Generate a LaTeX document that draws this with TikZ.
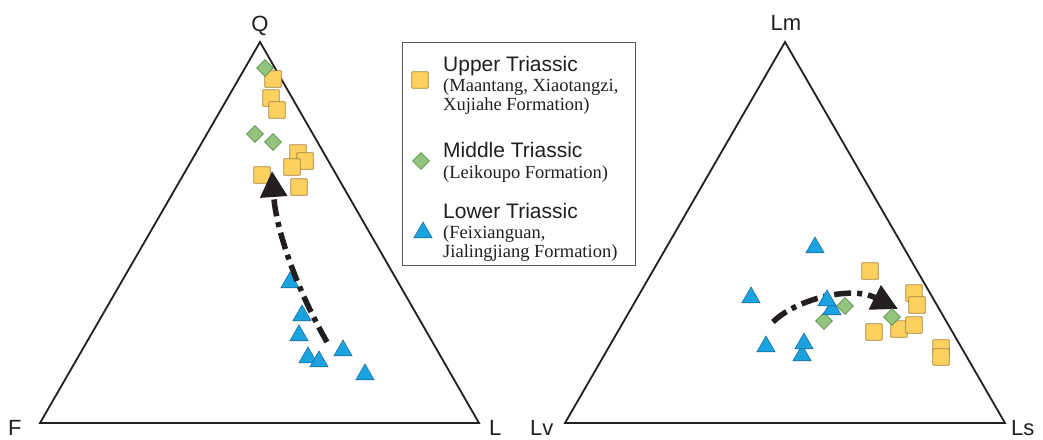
\documentclass[tikz,border=0pt]{standalone}
\usepackage{fontspec}
\setmainfont{Liberation Serif}
\setsansfont{Liberation Sans}
\usetikzlibrary{shapes.geometric,arrows.meta}
\definecolor{sqfill}{HTML}{FCD15F}
\definecolor{sqdraw}{HTML}{A8843C}
\definecolor{dmfill}{HTML}{93C47D}
\definecolor{dmdraw}{HTML}{5E8F4E}
\definecolor{trfill}{HTML}{1AA3DF}
\definecolor{trdraw}{HTML}{1B6FA3}
\definecolor{ink}{HTML}{231F20}
\definecolor{boxgray}{HTML}{5A5A5A}
\begin{document}
\begin{tikzpicture}[x=1pt,y=-1pt,
 sq/.style={rectangle,minimum size=16.5pt,inner sep=0pt,fill=sqfill,draw=sqdraw,line width=0.8pt,rounded corners=0.8pt},
 dm/.style={diamond,minimum size=17pt,inner sep=0pt,fill=dmfill,draw=dmdraw,line width=0.6pt},
 tri/.style={regular polygon,regular polygon sides=3,minimum size=21pt,inner sep=0pt,fill=trfill,draw=trdraw,line width=0.6pt,yshift=-2.5pt},
 corner/.style={font=\sffamily\fontsize{22}{26}\selectfont,text=ink,inner sep=0pt,anchor=base west},
 apex/.style={font=\sffamily\fontsize{22}{26}\selectfont,text=ink,inner sep=0pt,anchor=base},
 frame/.style={draw=ink,line width=1.8pt,line join=miter},
 trend/.style={draw=ink,line width=5.5pt,dash pattern=on 17pt off 6pt on 5pt off 6pt,-{Triangle[length=26pt,width=26pt]}},
 legbox/.style={draw=boxgray,line width=1pt,anchor=north west,minimum width=233pt,minimum height=223pt,inner sep=0pt},
 legtitle/.style={font=\sffamily\fontsize{21}{24}\selectfont,text=ink,inner sep=0pt,anchor=base west},
 legsub/.style={font=\fontsize{18.5}{21}\selectfont,text=ink,inner sep=0pt,anchor=base west}
]
\path[use as bounding box,fill=white] (0,0) rectangle (1043,439);

% ---------- left triangle Q-F-L ----------
\coordinate (Q) at (260,42);
\coordinate (F) at (40,423);
\coordinate (L) at (479,423);
\draw[frame] (F) -- (L) -- (Q) -- cycle;
\node[apex] (tQ) at (260,31) {Q};
\node[corner] (tF) at (8,435) {F};
\node[corner] (tL) at (489,435) {L};

% upper triassic (squares)
\node[sq] (a1) at (273,79) {};
\node[sq] (a2) at (271,98) {};
\node[sq] (a3) at (277,110) {};
\node[sq] (a4) at (298,153) {};
\node[sq] (a5) at (305,161) {};
\node[sq] (a6) at (292,167) {};
\node[sq] (a7) at (262,175) {};
\node[sq] (a8) at (299,187) {};
% middle triassic (diamonds)
\node[dm] (b1) at (265,68) {};
\node[dm] (b2) at (255,134) {};
\node[dm] (b3) at (273,142) {};
% lower triassic (triangles)
\node[tri] (c1) at (290,280) {};
\node[tri] (c2) at (302,313) {};
\node[tri] (c3) at (299,333) {};
\node[tri] (c4) at (308,355) {};
\node[tri] (c5) at (319,359) {};
\node[tri] (c6) at (343,348) {};
\node[tri] (c7) at (365,372) {};

\coordinate (s1) at (327,342);
\coordinate (e1) at (272,171);
\draw[trend] (s1) .. controls (297,290) and (276,230) .. (e1);

% ---------- right triangle Lm-Lv-Ls ----------
\coordinate (Lm) at (785,42);
\coordinate (Lv) at (565,423);
\coordinate (Ls) at (1005,423);
\draw[frame] (Lv) -- (Ls) -- (Lm) -- cycle;
\node[apex] (tLm) at (786,30) {Lm};
\node[corner] (tLv) at (530,435) {Lv};
\node[corner] (tLs) at (1011,435) {Ls};

\node[sq] (d1) at (870,271) {};
\node[sq] (d2) at (914,293) {};
\node[sq] (d3) at (917,305) {};
\node[sq] (d4) at (874,332) {};
\node[sq] (d5) at (899,329) {};
\node[sq] (d6) at (914,325) {};
\node[sq] (d7) at (941,348) {};
\node[sq] (d8) at (941,357) {};

\coordinate (s2) at (773,322);
\coordinate (e2) at (898,309);
\draw[trend] (s2) .. controls (795,300) and (850,285) .. (e2);

\node[dm] (f1) at (845,306) {};
\node[dm] (f2) at (824,321) {};
\node[dm] (f3) at (892,317) {};
\node[tri] (g1) at (815,245) {};
\node[tri] (g2) at (751,295) {};
\node[tri] (g3) at (832,307) {};
\node[tri] (g4) at (827,298) {};
\node[tri] (g5) at (766,344) {};
\node[tri] (g6) at (802,353) {};
\node[tri] (g7) at (804,341) {};

% ---------- legend ----------
\node[legbox] (legend) at (402,42) {};
\node[sq] (ksq) at (420,80) {};
\node[dm] (kdm) at (421,161) {};
\node[tri] (ktr) at (423,230) {};
\node[legtitle] (k1) at (443,71) {Upper Triassic};
\node[legsub] (k2) at (443,91) {(Maantang, Xiaotangzi,};
\node[legsub] (k3) at (443,110) {Xujiahe Formation)};
\node[legtitle] (k4) at (443,157) {Middle Triassic};
\node[legsub] (k5) at (443,178) {(Leikoupo Formation)};
\node[legtitle] (k6) at (443,218) {Lower Triassic};
\node[legsub] (k7) at (443,238) {(Feixianguan,};
\node[legsub] (k8) at (443,257) {Jialingjiang Formation)};
\end{tikzpicture}
\end{document}
